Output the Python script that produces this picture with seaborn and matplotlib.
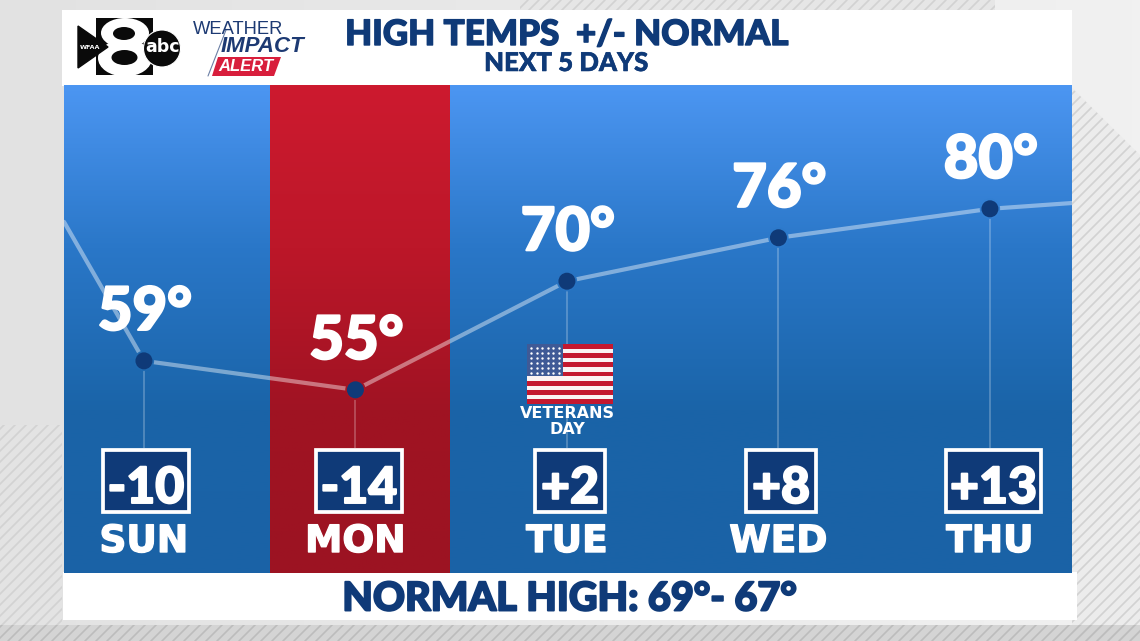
import numpy as np
import pandas as pd
import matplotlib
matplotlib.use("Agg")
import matplotlib.pyplot as plt
import matplotlib.patheffects as pe
from matplotlib.patches import Rectangle, Polygon, Circle, Ellipse
from matplotlib.colors import LinearSegmentedColormap
import seaborn as sns

days = ["SUN", "MON", "TUE", "WED", "THU"]
highs = [59, 55, 70, 76, 80]
departures = ["-10", "-14", "+2", "+8", "+13"]
# line enters and leaves the frame at these values (neighbouring days are cut off)
edge_positions = [-0.378, 4.388]
edge_values = [78.2, 80.8]
title = "HIGH TEMPS  +/- NORMAL"
subtitle = "NEXT 5 DAYS"
footer = "NORMAL HIGH: 69°- 67°"

NAVY = "#0f3a78"
W, H = 1140, 641

sns.set_theme(style="white")
plt.rcParams["font.family"] = ["Lato", "DejaVu Sans"]


def heavy(width, color):
    return [pe.withStroke(linewidth=width, foreground=color)]


fig = plt.figure(figsize=(W / 100, H / 100), dpi=100)

# ---------- page backdrop in pixel coordinates ----------
bg = fig.add_axes([0, 0, 1, 1], zorder=0)
bg.set_xlim(0, W); bg.set_ylim(H, 0); bg.axis("off")
grad = np.linspace(0, 1, 300).reshape(1, -1)
bg.imshow(grad, extent=(0, W, H, 0), aspect="auto",
          cmap=LinearSegmentedColormap.from_list("p", ["#e2e2e2", "#f1f1f1"]), zorder=0)


def hatch(poly, color="#d2d2d2", base=None):
    clip = Polygon(poly, closed=True, transform=bg.transData, fc=base or "none", ec="none", zorder=1)
    bg.add_patch(clip)
    for c in np.arange(0, W + H + 40, 11):
        ln, = bg.plot([c, c - H], [0, H], color=color, lw=1.2, zorder=1.5)
        ln.set_clip_path(clip)


hatch([(0, 425), (62, 425), (62, 625), (0, 625)], base="#e3e3e3")
hatch([(1072, 88), (1140, 155), (1140, 641), (1072, 641)], base="#ececec")
hatch([(520, 0), (995, 0), (995, 10), (520, 10)], base="#e6e6e6")
hatch([(0, 625), (W, 625), (W, H), (0, H)], color="#bcbcbc", base="#d4d4d4")
bg.set_xlim(0, W); bg.set_ylim(H, 0)

# white cards
bg.add_patch(Rectangle((62, 10), 1010, 76, fc="white", ec="none", zorder=2))
bg.add_patch(Rectangle((63, 572), 1014, 48, fc="white", ec="none", zorder=2))

# station logo
K = "#0a0a0a"
bg.add_patch(Rectangle((96, 18), 57, 57, fc=K, ec="none", zorder=3))
bg.add_patch(Ellipse((125, 33), 48, 30, fc="white", ec="none", zorder=3.1))
bg.add_patch(Ellipse((125, 58), 54, 37, fc="white", ec="none", zorder=3.1))
bg.add_patch(Ellipse((124, 33.5), 22, 13, fc=K, ec="none", zorder=3.2))
bg.add_patch(Ellipse((124.5, 57.5), 26, 15, fc=K, ec="none", zorder=3.2))
bg.add_patch(Polygon([(78, 26), (78, 68), (108, 47)], fc=K, ec=K, lw=1, zorder=3.3))
bg.text(90, 47.5, "WFAA", color="white", fontsize=4.6, fontweight="bold", ha="center", va="center", zorder=4,
        family=["DejaVu Sans"])
bg.add_patch(Circle((162, 48.5), 18.5, fc=K, ec="white", lw=0.8, zorder=3.4))
bg.text(162, 47.5, "abc", color="white", fontsize=12.5, fontweight="bold", ha="center", va="center", zorder=4,
        family=["DejaVu Sans"])

# weather impact alert logo
bg.text(193, 29, "WEATHER", color="#1d3a73", fontsize=13.2, ha="left", va="center", zorder=4,
        family=["Liberation Sans", "DejaVu Sans"])
bg.text(221, 46.5, "IMPACT", color="#1d3a73", fontsize=16, fontweight="bold", style="italic",
        ha="left", va="center", zorder=4, family=["Liberation Sans", "DejaVu Sans"])
bg.add_patch(Polygon([(218, 57), (281, 57), (274, 76), (212, 76)], fc="#d81e3c", ec="none", zorder=3))
bg.text(246, 66.5, "ALERT", color="white", fontsize=12, fontweight="bold", style="italic",
        ha="center", va="center", zorder=4, family=["Liberation Sans", "DejaVu Sans"])
bg.plot([226, 208], [30, 76], color="#6b7fa5", lw=0.8, zorder=3.5)

# titles
bg.text(566.5, 35, title, color=NAVY, fontsize=25.2, fontweight="black", ha="center", va="center", zorder=4,
        path_effects=heavy(1.0, NAVY))
bg.text(566.5, 63, subtitle, color=NAVY, fontsize=18.6, fontweight="black", ha="center", va="center", zorder=4,
        path_effects=heavy(0.4, NAVY))
bg.text(570, 599, footer, color=NAVY, fontsize=28.5, fontweight="black", ha="center", va="center", zorder=4,
        path_effects=heavy(1.4, NAVY))

# ---------- chart ----------
ax = fig.add_axes([64 / W, 1 - 573 / H, 1008 / W, 488 / H], zorder=2)
xlim = (-0.378, 4.388)
ylim = (29.7, 97.1)
ax.set_xlim(xlim); ax.set_ylim(ylim)
ax.axis("off")

ramp = np.linspace(0, 1, 256).reshape(-1, 1)
blue = LinearSegmentedColormap.from_list("b", ["#4c96f2", "#2a77c8", "#1a64a8", "#1a62a6"])
red = LinearSegmentedColormap.from_list("r", ["#cd1a2f", "#bc1729", "#a01323", "#9c1322"])
ax.imshow(ramp, extent=(*xlim, ylim[0], ylim[1]), aspect="auto", cmap=blue, zorder=0)
ax.imshow(ramp, extent=(0.596, 1.447, ylim[0], ylim[1]), aspect="auto", cmap=red, zorder=0.1)
ax.set_xlim(xlim); ax.set_ylim(ylim)

pos = list(range(len(days)))
df = pd.DataFrame({"day": pos, "high": highs})
line_df = pd.DataFrame({
    "x": [edge_positions[0]] + pos + [edge_positions[1]],
    "y": [edge_values[0]] + highs + [edge_values[1]],
})
to_data = ax.transData.inverted()


def px(x_px, y_px):
    return to_data.transform((x_px, H - y_px))


# stems
ax.vlines(df["day"], px(0, 448)[1], df["high"], color="white", alpha=0.27, lw=1.2, zorder=1)

# value labels sit below the line
for x, v in zip(pos, highs):
    ax.annotate(f"{v}°", (x, v), xytext=(1, 49), textcoords="offset pixels", color="white",
                fontsize=43, fontweight="black", ha="center", va="center", zorder=2,
                path_effects=heavy(1.6, "white"))

sns.lineplot(data=line_df, x="x", y="y", color="white", alpha=0.42, lw=3, sort=False, ax=ax,
             zorder=3, legend=False)
# halo in the local background colour leaves the small gap round each dot
frac = [(ylim[1] - v) / (ylim[1] - ylim[0]) for v in highs]
halo = [(red if d == 1 else blue)(f) for d, f in zip(pos, frac)]
ax.scatter(pos, highs, s=215, c=halo, linewidths=0, zorder=3.5)
sns.scatterplot(data=df, x="day", y="high", color=NAVY, s=150, edgecolor="none", ax=ax,
                zorder=4, legend=False)
ax.set_xlim(xlim); ax.set_ylim(ylim); ax.axis("off")

# departure boxes and day names
box_edges = [(101, 191), (314, 404), (533, 607), (744, 818), (944, 1043)]
for x, d, name, (xl, xr) in zip(pos, departures, days, box_edges):
    x0, y0 = px(xl + 2, 512)
    x1, y1 = px(xr - 2, 450)
    ax.add_patch(Rectangle((x0, y0), x1 - x0, y1 - y0, fc=NAVY, ec="white", lw=2.7, zorder=5))
    ax.text((x0 + x1) / 2, px(0, 484.5)[1], d, color="white", fontsize=36, fontweight="black",
            ha="center", va="center_baseline", zorder=6, path_effects=heavy(1.4, "white"))
    ax.text(x, px(0, 538)[1], name, color="white", fontsize=27, fontweight="bold",
            ha="center", va="center_baseline", zorder=6, family=["DejaVu Sans"],
            path_effects=heavy(1.0, "white"))

# flag above TUE
flag = fig.add_axes([527 / W, 1 - 404 / H, 86 / W, 60 / H], zorder=3)
flag.set_xlim(0, 86); flag.set_ylim(60, 0); flag.axis("off")
sh = 60 / 13
for i in range(13):
    flag.add_patch(Rectangle((0, i * sh), 86, sh, fc="#c4182f" if i % 2 == 0 else "#fbf3f3", ec="none"))
flag.add_patch(Rectangle((0, 0), 36, sh * 7, fc="#3f5a96", ec="none"))
sx, sy = np.meshgrid(np.arange(4, 36, 5.5), np.arange(4, sh * 7, 5))
flag.scatter(sx.ravel(), sy.ravel(), s=3, color="white", linewidths=0)
flag.set_xlim(0, 86); flag.set_ylim(60, 0)

ax.text(2, px(0, 412)[1], "VETERANS", color="white", fontsize=11.5, fontweight="bold",
        ha="center", va="center_baseline", zorder=6, family=["DejaVu Sans"])
ax.text(2, px(0, 428)[1], "DAY", color="white", fontsize=11.5, fontweight="bold",
        ha="center", va="center_baseline", zorder=6, family=["DejaVu Sans"])

fig.savefig("out.png", dpi=100)
